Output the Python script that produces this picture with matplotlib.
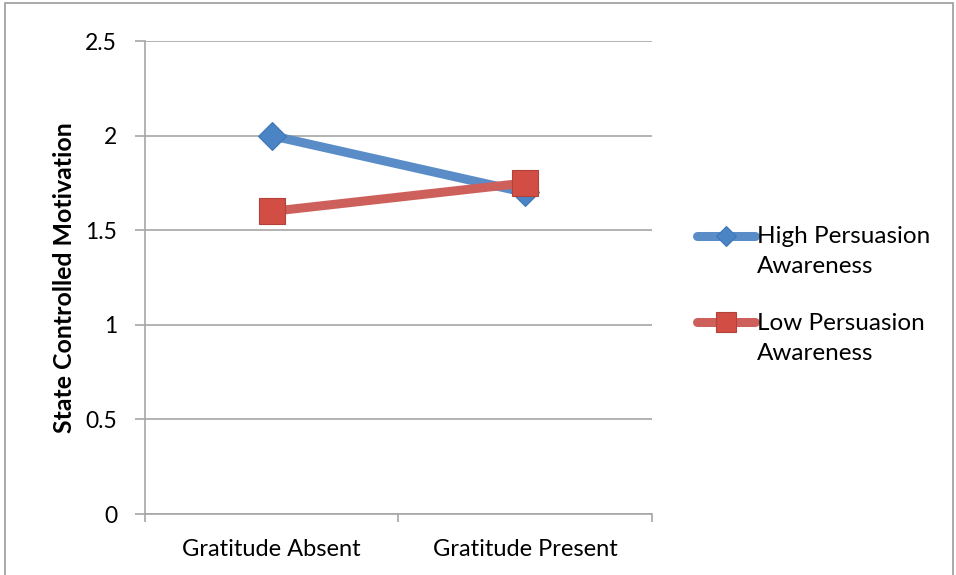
import matplotlib
matplotlib.use("Agg")
import matplotlib.pyplot as plt
from matplotlib.patches import Rectangle
from matplotlib.legend_handler import HandlerLine2D

plt.rcParams['font.family'] = ['Lato', 'DejaVu Sans']

categories = ["Gratitude Absent", "Gratitude Present"]
high_awareness = [2.0, 1.7]
low_awareness = [1.6, 1.75]
series_names = ["High Persuasion\nAwareness", "Low Persuasion\nAwareness"]
y_ticks = [0, 0.5, 1, 1.5, 2, 2.5]

grid_gray = "#A6A6A6"


class FirstLineHandler(HandlerLine2D):
    """Place the legend key level with the first line of a two-line label."""

    def create_artists(self, legend, orig_handle, xdescent, ydescent,
                       width, height, fontsize, trans):
        return super().create_artists(legend, orig_handle, xdescent, ydescent,
                                      width, height + 1.3 * fontsize,
                                      fontsize, trans)


fig = plt.figure(figsize=(9.56, 5.75), dpi=100)
fig.patches.append(Rectangle((0.005, -0.01), 0.992, 1.005, transform=fig.transFigure,
                             fill=False, edgecolor="#9C9C9C", linewidth=1.2))

ax = fig.add_axes([0.1517, 0.106, 0.530, 0.8225])

xpos = [i + 0.5 for i in range(len(categories))]
ax.plot(xpos, high_awareness, color="#5A8DC8", linewidth=6.5, marker="D", markersize=14,
        markerfacecolor="#4A84C4", markeredgecolor="#3F77B5", markeredgewidth=0.8,
        solid_capstyle="round", label=series_names[0], zorder=3)
ax.plot(xpos, low_awareness, color="#CE605C", linewidth=6.5, marker="s", markersize=19,
        markerfacecolor="#D24E45", markeredgecolor="#B2413A", markeredgewidth=0.8,
        solid_capstyle="round", label=series_names[1], zorder=4)

ax.set_xlim(0, len(categories))
ax.set_ylim(0, 2.5)
ax.set_yticks(y_ticks)
ax.set_yticklabels([f"{v:g}" for v in y_ticks])
ax.yaxis.grid(True, color=grid_gray, linewidth=1.2)
ax.set_axisbelow(True)

ax.set_xticks(range(len(categories) + 1))
ax.set_xticklabels([])
ax.set_xticks(xpos, minor=True)
ax.set_xticklabels(categories, minor=True)
ax.tick_params(axis="x", which="minor", length=0, pad=18, labelsize=17)
ax.tick_params(axis="x", which="major", length=6, color=grid_gray, width=1.2)
ax.tick_params(axis="y", length=7, color=grid_gray, width=1.2, pad=13, labelsize=16.5)

for side in ("top", "right"):
    ax.spines[side].set_visible(False)
for side in ("left", "bottom"):
    ax.spines[side].set_color(grid_gray)
    ax.spines[side].set_linewidth(1.2)

ax.set_ylabel("State Controlled Motivation", fontsize=17.9, fontweight="bold")
ax.yaxis.set_label_coords(-0.136, 0.5)

handles, labels = ax.get_legend_handles_labels()
leg = fig.legend(handles, labels, loc="upper left", bbox_to_anchor=(697 / 956, 1 - 226 / 575),
                 frameon=False, fontsize=17.5, handlelength=2.4, handletextpad=0.05,
                 labelspacing=1.45, borderaxespad=0, borderpad=0, markerscale=0.75,
                 handler_map={h: FirstLineHandler() for h in handles})
for t in leg.get_texts():
    t.set_linespacing(1.55)

fig.savefig("out.png", dpi=100)
